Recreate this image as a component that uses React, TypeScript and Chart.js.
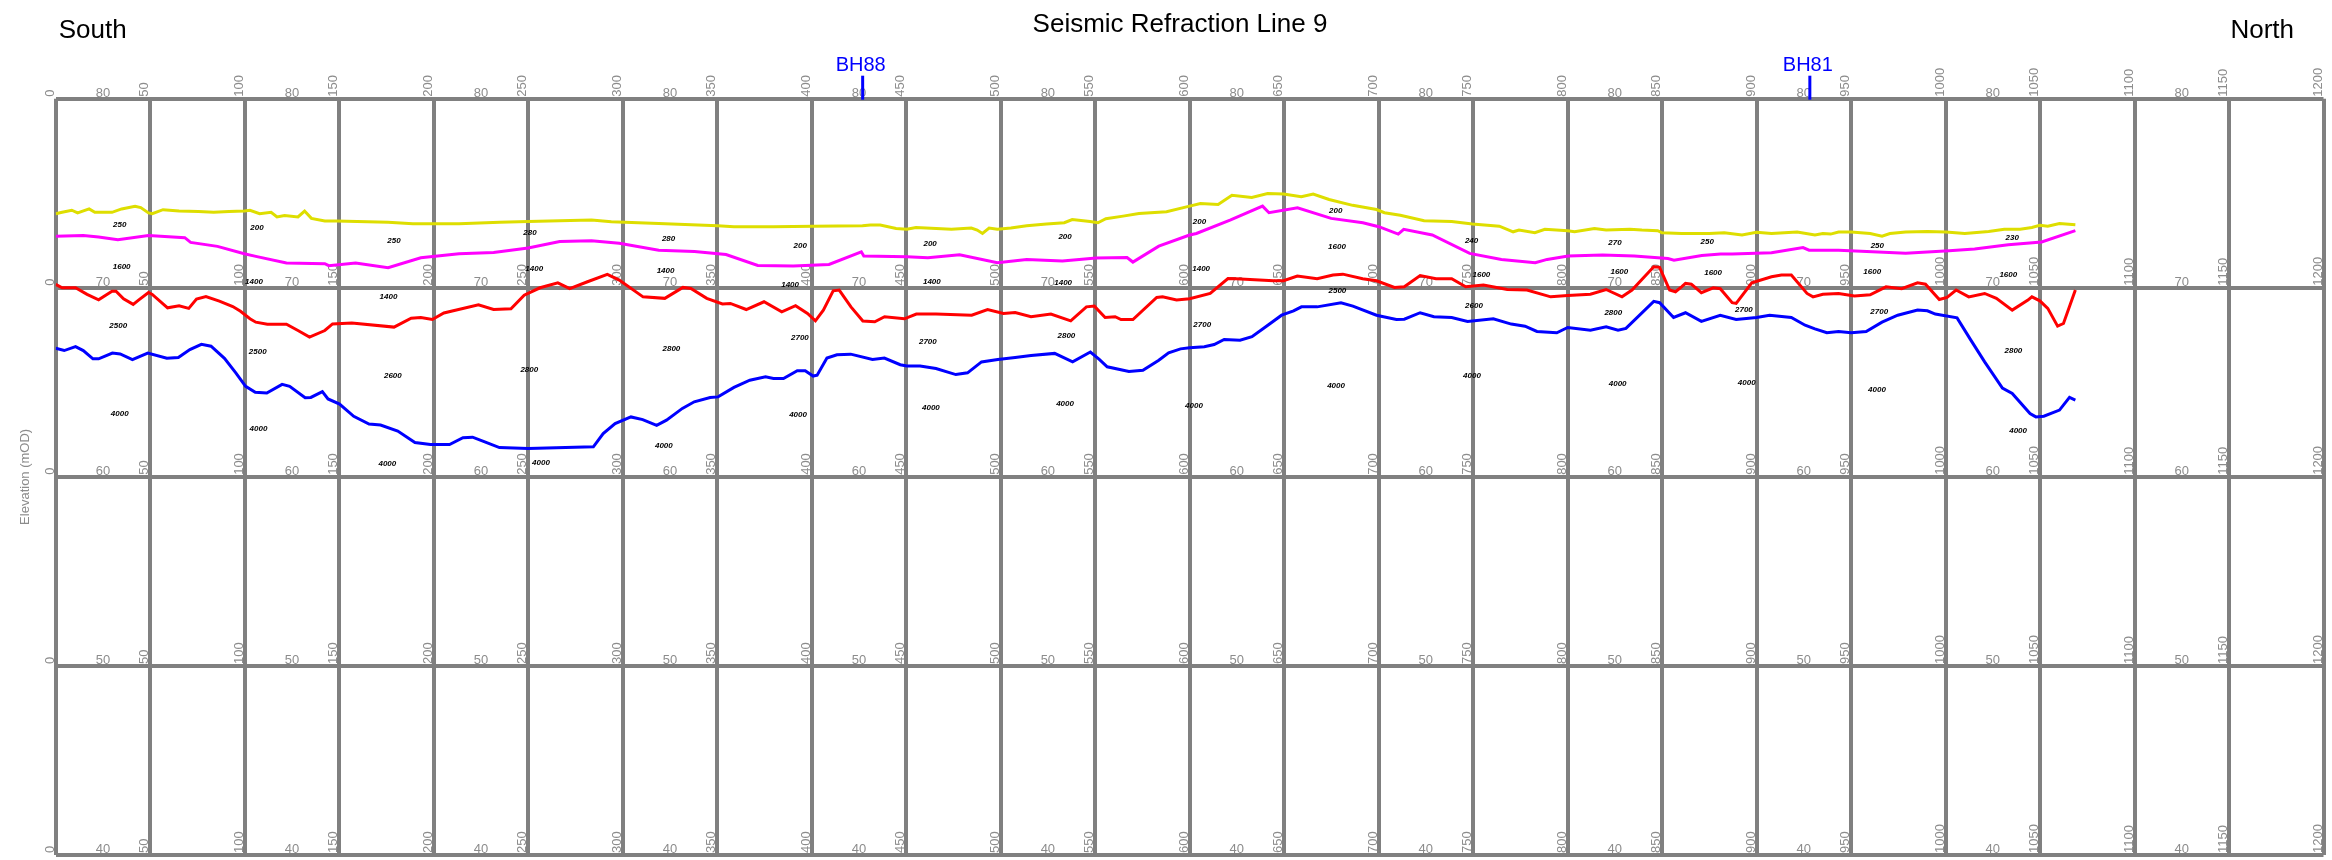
import React, { useEffect, useRef } from "react";
import { Chart, registerables } from "chart.js";

Chart.register(...registerables);

// ---------------- DATA ----------------
const chainageTicks = [0, 50, 100, 150, 200, 250, 300, 350, 400, 450, 500, 550, 600, 650, 700, 750, 800, 850, 900, 950, 1000, 1050, 1100, 1150, 1200];
const elevationTicks = [80, 70, 60, 50, 40];
const elevationLabelChainages = [25, 125, 225, 325, 425, 525, 625, 725, 825, 925, 1025, 1125];

const yellowX = [0, 3.4, 8.5, 11.6, 17.7, 20.7, 29.8, 34.9, 42, 45, 49.1, 51.1, 56.8, 65.3, 75.5, 83.6, 91.7, 99.8, 102.8, 107.9, 114, 117.1, 121.1, 128.2, 131.7, 135.3, 142.4, 148.5, 175.9, 189, 213.4, 235, 250, 266.7, 283.5, 294, 319.1, 350.3, 358.9, 379.8, 400.8, 426.9, 431.1, 436.3, 444.7, 450.4, 455.2, 474, 484.5, 487.6, 490.4, 493.9, 498.3, 505.4, 513.8, 524.3, 533.7, 537.9, 547.3, 551.5, 555.7, 564.8, 573.2, 587.8, 600, 605.7, 615.1, 622.4, 632.9, 641.3, 649.7, 659.1, 665.4, 673.8, 686.3, 698.9, 703.1, 711.5, 724.1, 738.7, 749.6, 763.9, 771.2, 774.3, 782.7, 788, 800.1, 803.7, 814.2, 820.4, 833, 839.3, 847.7, 850, 860.3, 874.9, 882.9, 892.3, 900, 907.9, 921.5, 930.9, 935.1, 939.2, 943.4, 950.1, 960.1, 966.4, 970.6, 978.9, 990.4, 1000.2, 1010.2, 1022.8, 1031.1, 1039.5, 1045.7, 1049.9, 1054.1, 1060.3, 1068.7];
const yellowY = [73.92, 73.99, 74.1, 73.96, 74.17, 73.99, 73.99, 74.17, 74.31, 74.24, 73.96, 73.92, 74.13, 74.06, 74.03, 73.99, 74.03, 74.06, 74.1, 73.92, 73.99, 73.75, 73.82, 73.75, 74.06, 73.67, 73.53, 73.53, 73.46, 73.39, 73.39, 73.47, 73.51, 73.54, 73.58, 73.49, 73.4, 73.28, 73.23, 73.23, 73.26, 73.28, 73.32, 73.32, 73.14, 73.1, 73.19, 73.1, 73.16, 73.05, 72.87, 73.16, 73.09, 73.16, 73.28, 73.37, 73.44, 73.61, 73.51, 73.44, 73.65, 73.79, 73.93, 74.02, 74.32, 74.46, 74.41, 74.89, 74.78, 74.99, 74.96, 74.81, 74.96, 74.67, 74.36, 74.14, 73.97, 73.84, 73.55, 73.51, 73.37, 73.26, 72.96, 73.05, 72.91, 73.09, 73.02, 72.96, 73.14, 73.05, 73.09, 73.05, 73.02, 72.91, 72.87, 72.87, 72.91, 72.79, 72.93, 72.87, 72.95, 72.79, 72.87, 72.84, 72.95, 72.95, 72.87, 72.73, 72.87, 72.95, 72.98, 72.95, 72.87, 72.98, 73.09, 73.1, 73.19, 73.3, 73.26, 73.4, 73.33];

const magentaX = [0, 14.6, 22.7, 32.9, 49.1, 68.3, 71.4, 85.6, 99.8, 105.9, 122.1, 142.4, 144.5, 158.7, 175.9, 193.2, 213.4, 231.7, 250, 266.7, 283.5, 298.2, 319.1, 338, 354.7, 371.5, 390.3, 409.2, 426.3, 427.6, 450.4, 461.5, 478.3, 498.3, 513.8, 532.7, 550.5, 566.9, 570, 583.7, 600, 603.6, 621.4, 638.6, 642, 657.1, 674.9, 691.7, 700.1, 710.4, 713.3, 728.4, 748.2, 765, 782.9, 789.2, 800.3, 818.5, 835.3, 853.1, 856.3, 871, 881, 887.1, 907.9, 924.6, 927.8, 943.4, 964.3, 978.9, 1001.9, 1015.4, 1033.2, 1050.9, 1068.7];
const magentaY = [72.72, 72.76, 72.69, 72.54, 72.76, 72.65, 72.4, 72.19, 71.8, 71.66, 71.31, 71.27, 71.17, 71.31, 71.06, 71.59, 71.8, 71.87, 72.1, 72.45, 72.49, 72.35, 71.99, 71.92, 71.76, 71.18, 71.15, 71.23, 71.9, 71.68, 71.64, 71.59, 71.75, 71.32, 71.5, 71.41, 71.57, 71.6, 71.36, 72.2, 72.79, 72.87, 73.58, 74.32, 73.97, 74.23, 73.67, 73.44, 73.23, 72.84, 73.09, 72.79, 71.82, 71.5, 71.32, 71.5, 71.68, 71.73, 71.68, 71.55, 71.46, 71.71, 71.78, 71.78, 71.85, 72.13, 71.99, 71.99, 71.89, 71.82, 71.96, 72.05, 72.28, 72.42, 73.02];

const redX = [0, 3.4, 10.5, 16.6, 22.7, 29.8, 31.9, 35.9, 41, 44, 49.1, 51.1, 59.2, 65.3, 70.4, 74.5, 79.5, 86.6, 93.7, 97.8, 102.8, 105.9, 112, 122.1, 128.2, 134.3, 142.4, 146.5, 156.7, 179, 188.1, 193.2, 199.3, 205.4, 223.7, 231.7, 240.9, 247.9, 256.3, 265.7, 272, 281.4, 291.9, 298.2, 310.8, 322.3, 331.9, 336.1, 344.5, 352.8, 357, 365.4, 374.8, 384.2, 391.5, 397.8, 402, 406.2, 411.4, 414.6, 420.8, 427.1, 433.4, 438.6, 449.1, 455.4, 465.8, 484.7, 493.1, 501.5, 507.7, 516.1, 526.6, 537.1, 545.4, 549.6, 555.3, 560.6, 563.7, 570, 582.6, 585.7, 593.1, 600, 610.9, 620.3, 624.5, 644.4, 649.7, 657, 667.5, 675.9, 681.1, 691.6, 698.9, 708.4, 713.6, 722, 730.4, 738.7, 746.1, 755.5, 768.1, 778.5, 791.1, 800.1, 812.1, 820.4, 828.8, 834.1, 845.6, 848.7, 854, 857.1, 860.3, 862.4, 865.5, 870.8, 877.1, 880.8, 887.1, 889.2, 897.5, 907.9, 913.2, 918.4, 926.7, 929.9, 935.1, 943.4, 951.8, 960.1, 968.5, 976.8, 985.2, 989.4, 996.7, 1000.8, 1005.6, 1012.3, 1020.7, 1026.9, 1035.3, 1043.6, 1045.7, 1049.9, 1054.1, 1059.3, 1062.4, 1068.7];
const redY = [70.18, 70.0, 70.0, 69.65, 69.36, 69.82, 69.82, 69.42, 69.12, 69.36, 69.75, 69.65, 68.94, 69.05, 68.91, 69.4, 69.54, 69.29, 69.01, 68.76, 68.36, 68.18, 68.07, 68.07, 67.74, 67.39, 67.74, 68.09, 68.14, 67.92, 68.39, 68.43, 68.32, 68.67, 69.1, 68.85, 68.89, 69.61, 70.0, 70.26, 69.96, 70.32, 70.71, 70.41, 69.52, 69.44, 70.02, 69.96, 69.44, 69.14, 69.17, 68.85, 69.26, 68.73, 69.05, 68.64, 68.25, 68.82, 69.84, 69.88, 68.99, 68.24, 68.2, 68.47, 68.36, 68.61, 68.61, 68.55, 68.85, 68.64, 68.69, 68.47, 68.61, 68.25, 68.99, 69.03, 68.43, 68.47, 68.32, 68.32, 69.49, 69.52, 69.35, 69.42, 69.7, 70.49, 70.48, 70.37, 70.37, 70.62, 70.48, 70.67, 70.72, 70.48, 70.37, 70.02, 70.05, 70.65, 70.48, 70.48, 70.05, 70.14, 69.91, 69.88, 69.52, 69.59, 69.66, 69.91, 69.52, 69.88, 71.11, 71.08, 69.88, 69.79, 70.05, 70.23, 70.19, 69.74, 70.0, 69.95, 69.21, 69.17, 70.26, 70.58, 70.67, 70.67, 69.7, 69.52, 69.66, 69.7, 69.56, 69.63, 70.05, 69.95, 70.26, 70.19, 69.38, 69.49, 69.88, 69.52, 69.7, 69.44, 68.82, 69.35, 69.52, 69.31, 68.91, 67.97, 68.11, 69.88];

const blueX = [0, 4.5, 10.5, 14.6, 19.7, 22.7, 30, 34.1, 40.6, 48.7, 58.8, 64.9, 71, 77.1, 82.2, 89.3, 95.4, 100.5, 105.6, 111.7, 119.8, 123.8, 132, 135, 141.1, 144.1, 150.2, 157.7, 165.8, 171.9, 181, 190.1, 198.3, 208.4, 215.5, 220.6, 226.7, 234.8, 250, 284.5, 289.7, 296, 304.4, 310.6, 318, 323.2, 331.6, 337.9, 346.3, 350.5, 358.9, 367.3, 375.6, 379.8, 385.1, 392.4, 396.6, 400.8, 402.9, 408.1, 413.4, 420.7, 432.2, 438.5, 446.9, 450.4, 457.4, 465.8, 476.3, 482.5, 489.9, 498.5, 507.7, 516.1, 528.6, 538.1, 547.5, 552.2, 556.4, 567.9, 575.3, 583.7, 588.9, 595.2, 600, 607.8, 613, 618.3, 626.7, 633, 640.3, 648.7, 655, 659.2, 667.5, 680.1, 686.4, 698.9, 709.4, 713.6, 722, 729.3, 738.7, 747.1, 760.7, 770.2, 777.5, 783.8, 794.3, 800.1, 812.1, 820.4, 826.7, 830.9, 845.6, 848.7, 856.1, 862.4, 870.8, 880.8, 889.2, 900, 906.9, 918.4, 925.7, 930.9, 937.2, 943.4, 950.1, 958, 966.4, 974.7, 985.2, 990.4, 994.6, 1006.1, 1013.4, 1020.7, 1030.1, 1035.3, 1044.7, 1047.8, 1052, 1060.3, 1065.6, 1068.7];
const blueY = [66.8, 66.68, 66.89, 66.68, 66.24, 66.24, 66.55, 66.5, 66.2, 66.55, 66.27, 66.31, 66.73, 67.01, 66.91, 66.27, 65.49, 64.79, 64.47, 64.43, 64.89, 64.79, 64.19, 64.2, 64.51, 64.12, 63.85, 63.2, 62.79, 62.74, 62.42, 61.82, 61.71, 61.71, 62.07, 62.1, 61.86, 61.55, 61.5, 61.59, 62.29, 62.82, 63.17, 63.03, 62.72, 63.0, 63.62, 63.97, 64.2, 64.23, 64.73, 65.11, 65.29, 65.2, 65.2, 65.61, 65.61, 65.33, 65.38, 66.28, 66.46, 66.49, 66.21, 66.28, 65.93, 65.86, 65.86, 65.73, 65.41, 65.5, 66.08, 66.21, 66.31, 66.42, 66.53, 66.08, 66.6, 66.21, 65.82, 65.57, 65.64, 66.17, 66.56, 66.77, 66.83, 66.88, 67.0, 67.27, 67.23, 67.41, 67.94, 68.55, 68.78, 68.99, 68.99, 69.21, 69.03, 68.55, 68.32, 68.34, 68.68, 68.47, 68.43, 68.22, 68.36, 68.08, 67.97, 67.69, 67.62, 67.9, 67.76, 67.94, 67.76, 67.85, 69.28, 69.21, 68.43, 68.68, 68.22, 68.54, 68.32, 68.43, 68.54, 68.43, 68.02, 67.83, 67.62, 67.69, 67.62, 67.69, 68.18, 68.55, 68.82, 68.78, 68.61, 68.41, 67.23, 66.08, 64.69, 64.41, 63.35, 63.17, 63.21, 63.53, 64.2, 64.06];

// velocity annotations: text, chainage, elevation
const velocityText = ["250", "200", "250", "280", "280", "200", "200", "200", "200", "200", "240", "270", "250", "250", "230",
  "1600", "1400", "1400", "1400", "1400", "1400", "1400", "1400", "1400", "1600", "1600", "1600", "1600", "1600", "1600",
  "2500", "2500", "2600", "2800", "2800", "2700", "2700", "2800", "2700", "2500", "2600", "2800", "2700", "2700", "2800",
  "4000", "4000", "4000", "4000", "4000", "4000", "4000", "4000", "4000", "4000", "4000", "4000", "4000", "4000", "4000"];
const velocityX = [33.9, 106.5, 179, 251, 324.3, 394, 462.7, 534.1, 605.2, 677.3, 749.2, 825.1, 873.9, 963.9, 1035.3,
  34.9, 104.9, 176.1, 253.2, 322.7, 388.6, 463.6, 533.1, 606.1, 678, 754.4, 827.4, 877, 961.2, 1033.2,
  33.1, 106.9, 178.4, 250.6, 325.8, 393.8, 461.5, 534.8, 606.7, 678.2, 750.5, 824.2, 893.3, 964.9, 1035.9,
  33.9, 107.3, 175.5, 256.8, 321.8, 392.8, 463.1, 534.1, 602.3, 677.5, 749.4, 826.5, 894.8, 963.7, 1038.4];
const velocityY = [73.34, 73.18, 72.46, 72.92, 72.61, 72.24, 72.35, 72.72, 73.51, 74.09, 72.5, 72.4, 72.45, 72.24, 72.66,
  71.13, 70.34, 69.54, 71.01, 70.92, 70.18, 70.34, 70.28, 71.02, 72.19, 70.71, 70.86, 70.8, 70.86, 70.71,
  67.97, 66.64, 65.32, 65.67, 66.79, 67.37, 67.16, 67.48, 68.06, 69.82, 69.07, 68.69, 68.85, 68.75, 66.68,
  63.36, 62.56, 60.67, 60.73, 61.66, 63.3, 63.67, 63.88, 63.77, 64.83, 65.36, 64.94, 64.99, 64.62, 62.42];

const boreholeNames = ["BH88", "BH81"];
const boreholeChainages = [427, 928.2];

const TITLE = "Seismic Refraction Line 9";
const LEFT_LABEL = "South";
const RIGHT_LABEL = "North";
const Y_TITLE = "Elevation (mOD)";

// ---------------- STYLE ----------------
const FONT = "'Liberation Sans', Arial, sans-serif";
const GRID = "#808080";
const LABEL = "#8c8c8c";
const GRID_W = 4;

function pts(xs: number[], ys: number[]) {
  return xs.map((x, i) => ({ x, y: ys[i] }));
}

const gridLabelPlugin = {
  id: "gridLabels",
  beforeDatasetsDraw(chart: any) {
    const { ctx, scales } = chart;
    const xs = scales.x, ys = scales.y;
    ctx.save();
    ctx.fillStyle = LABEL;
    ctx.font = `13px ${FONT}`;
    for (const e of elevationTicks) {
      const py = ys.getPixelForValue(e);
      ctx.textAlign = "center";
      ctx.textBaseline = "alphabetic";
      for (const c of elevationLabelChainages) {
        ctx.fillText(String(e), xs.getPixelForValue(c), py - GRID_W / 2);
      }
      for (const c of chainageTicks) {
        const px = xs.getPixelForValue(c);
        ctx.save();
        ctx.translate(px - GRID_W / 2, py - GRID_W / 2);
        ctx.rotate(-Math.PI / 2);
        ctx.textAlign = "left";
        ctx.textBaseline = "alphabetic";
        ctx.fillText(String(c), 0, 0);
        ctx.restore();
      }
    }
    ctx.restore();
  },
};

const annotationPlugin = {
  id: "annotations",
  afterDatasetsDraw(chart: any) {
    const { ctx, scales, chartArea } = chart;
    const xs = scales.x, ys = scales.y;
    ctx.save();
    ctx.fillStyle = "#000";
    ctx.font = `italic bold 8px ${FONT}`;
    ctx.textAlign = "center";
    ctx.textBaseline = "middle";
    velocityText.forEach((t, i) => {
      ctx.fillText(t, xs.getPixelForValue(velocityX[i]), ys.getPixelForValue(velocityY[i]));
    });
    boreholeNames.forEach((name, i) => {
      const px = xs.getPixelForValue(boreholeChainages[i]);
      ctx.strokeStyle = "#0000ff";
      ctx.lineWidth = 3;
      ctx.beginPath();
      ctx.moveTo(px, chartArea.top - 23);
      ctx.lineTo(px, chartArea.top + 1);
      ctx.stroke();
      ctx.fillStyle = "#0000ff";
      ctx.font = `20px ${FONT}`;
      ctx.textAlign = "center";
      ctx.textBaseline = "alphabetic";
      ctx.fillText(name, px - 2, chartArea.top - 28);
    });
    ctx.restore();
  },
  afterDraw(chart: any) {
    const { ctx, chartArea } = chart;
    ctx.save();
    ctx.fillStyle = "#000";
    ctx.font = `26px ${FONT}`;
    ctx.textBaseline = "alphabetic";
    ctx.textAlign = "center";
    ctx.fillText(TITLE, 1180, 31.5);
    ctx.textAlign = "left";
    ctx.fillText(LEFT_LABEL, chartArea.left + 3, 38);
    ctx.textAlign = "right";
    ctx.fillText(RIGHT_LABEL, 2294, 38);
    ctx.fillStyle = LABEL;
    ctx.font = `13px ${FONT}`;
    ctx.translate(25, (chartArea.top + chartArea.bottom) / 2);
    ctx.rotate(-Math.PI / 2);
    ctx.textAlign = "center";
    ctx.textBaseline = "middle";
    ctx.fillText(Y_TITLE, 0, 0);
    ctx.restore();
  },
};

export default function App() {
  const ref = useRef<HTMLCanvasElement>(null);
  useEffect(() => {
    const canvas = ref.current;
    if (!canvas) return;
    const ds = (label: string, xs: number[], ys: number[], color: string) => ({
      label,
      data: pts(xs, ys),
      borderColor: color,
      backgroundColor: color,
      borderWidth: 3,
      pointRadius: 0,
      tension: 0,
      fill: false,
    });
    const chart = new Chart(canvas, {
      type: "line",
      data: {
        datasets: [
          ds("Layer 1 base", yellowX, yellowY, "#dede00"),
          ds("Layer 2 base", magentaX, magentaY, "#ff00ff"),
          ds("Layer 3 base", redX, redY, "#ff0000"),
          ds("Bedrock", blueX, blueY, "#0000ff"),
        ],
      },
      options: {
        responsive: false,
        animation: false,
        devicePixelRatio: 1,
        layout: { padding: { left: 55.7, right: 8.5, top: 98.7, bottom: 5 } },
        plugins: {
          legend: { display: false },
          tooltip: { enabled: false },
          title: { display: false },
        },
        scales: {
          x: {
            type: "linear",
            min: 0,
            max: 1200,
            ticks: { display: false, stepSize: 50 },
            grid: { color: GRID, lineWidth: GRID_W, drawTicks: false },
            border: { display: false },
          },
          y: {
            type: "linear",
            min: 40,
            max: 80,
            ticks: { display: false, stepSize: 10 },
            grid: { color: GRID, lineWidth: GRID_W, drawTicks: false },
            border: { display: false },
          },
        },
      },
      plugins: [gridLabelPlugin, annotationPlugin],
    } as any);
    return () => chart.destroy();
  }, []);
  return (
    <canvas
      ref={ref}
      width={2332}
      height={860}
      style={{ position: "absolute", left: 0, top: 0, width: 2332, height: 860 }}
    />
  );
}
